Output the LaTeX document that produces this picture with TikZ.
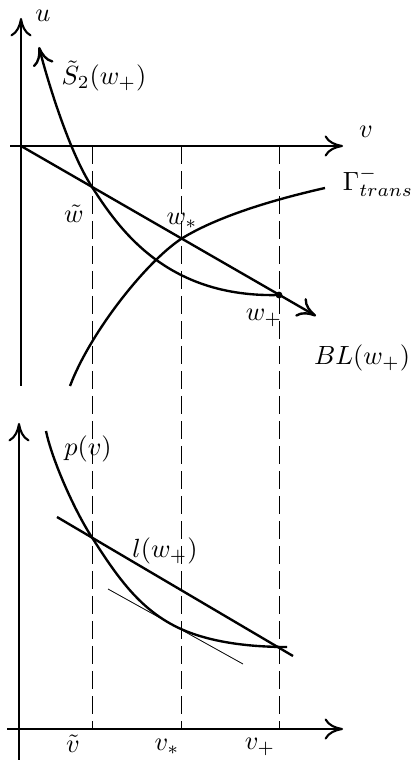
\documentclass[tikz,border=0pt]{standalone}
\usepackage{amsmath,amssymb}
\usepackage{tikz}
\usetikzlibrary{arrows.meta}

\begin{document}
\begin{tikzpicture}[
  x=0.38pt,y=-0.38pt,
  tip/.style={-{Computer Modern Rightarrow[length=7pt,width=8pt]}},
  axis/.style={line width=0.8pt,tip},
  curve/.style={line width=0.9pt},
  guide/.style={line width=0.35pt,dash pattern=on 7pt off 2.5pt},
  thinline/.style={line width=0.3pt},
  lbl/.style={inner sep=0pt}
]
\useasboundingbox (0,0) rectangle (413,760);
% upper panel: the (v,u) plane
\coordinate (ubot) at (21,386);
\coordinate (utop) at (21,18);
\coordinate (vleft) at (10,146);
\coordinate (vright) at (343,146);
\coordinate (O) at (21,146);
\coordinate (wt) at (92,187);
\coordinate (ws) at (181,239);
\coordinate (wp) at (279,295);
\coordinate (bltip) at (316,316);
\coordinate (s2tip) at (39,47);
\coordinate (gstart) at (70,386);
\coordinate (gend) at (325,188);
\draw[axis] (ubot) -- (utop);
\draw[axis] (vleft) -- (vright);
% lower panel
\coordinate (pbot) at (19,760);
\coordinate (ptop) at (19,423);
\coordinate (hleft) at (7,729);
\coordinate (hright) at (343,729);
\draw[axis] (pbot) -- (ptop);
\draw[axis] (hleft) -- (hright);
% dashed guides
\foreach \x/\n in {92/a,181/b,279/c}{
  \coordinate (g\n top) at (\x,146);
  \coordinate (g\n bot) at (\x,729);
  \draw[guide] (g\n top) -- (g\n bot);
}
% curves, upper
\draw[curve,tip] (O) -- (bltip);
\draw[curve,tip] (wp) .. controls (165,298) and (118,227) .. (wt)
  .. controls (68,150) and (46,75) .. (s2tip);
\draw[curve] (gstart) .. controls (90,333) and (145,263) .. (ws)
  .. controls (221,214) and (285,197) .. (gend);
\fill (wp) circle (1.3pt);
% curves, lower
\coordinate (pstart) at (46,431);
\coordinate (pa) at (93,539);
\coordinate (pb) at (181,629);
\coordinate (pend) at (287,647);
\coordinate (lstart) at (57,517);
\coordinate (lend) at (293,656);
\coordinate (tstart) at (108,589);
\coordinate (tend) at (243,664);
\draw[curve] (pstart) .. controls (52,460) and (75,512) .. (pa)
  .. controls (118,578) and (141,611) .. (pb)
  .. controls (211,642.5) and (250,647) .. (pend);
\draw[curve] (lstart) -- (lend);
\draw[thinline] (tstart) -- (tend);
% labels
\node[lbl] (ulab) at (43,16) {$u$};
\node[lbl] (vlab) at (366,132) {$v$};
\node[lbl] (s2lab) at (104,76) {$\tilde S_2(w_+)$};
\node[lbl] (gamlab) at (378,182) {$\Gamma^-_{trans}$};
\node[lbl] (wtlab) at (74,214) {$\tilde w$};
\node[lbl] (wslab) at (182,221) {$w_*$};
\node[lbl] (wplab) at (264,318) {$w_+$};
\node[lbl] (bllab) at (362,358) {$BL(w_+)$};
\node[lbl] (plab) at (88,449) {$p(v)$};
\node[lbl] (llab) at (165,551) {$l(w_+)$};
\node[lbl] (vtlab) at (73,744) {$\tilde v$};
\node[lbl] (vslab) at (167,747) {$v_*$};
\node[lbl] (vplab) at (260,747) {$v_+$};
\end{tikzpicture}
\end{document}
